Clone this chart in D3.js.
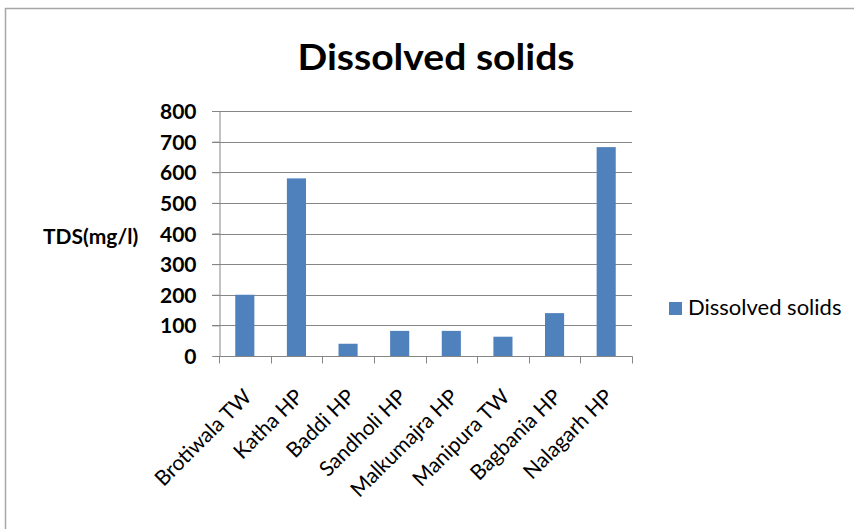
<!DOCTYPE html>
<html>
<head>
<meta charset="utf-8">
<script src="https://cdn.jsdelivr.net/npm/d3@7"></script>
<style>
  html, body { margin: 0; padding: 0; background: #fff; }
  svg { display: block; }
</style>
</head>
<body>
<svg id="chart" width="854" height="529"></svg>
<script>
const categories = ["Brotiwala TW", "Katha HP", "Baddi HP", "Sandholi HP", "Malkumajra HP", "Manipura TW", "Bagbania HP", "Nalagarh HP"];
const values = [200, 580, 40, 82, 82, 63, 140, 682];
const yTicks = [0, 100, 200, 300, 400, 500, 600, 700, 800];
const seriesName = "Dissolved solids";
const titleText = "Dissolved solids";
const yLabel = "TDS(mg/l)";

const svg = d3.select("#chart");
const W = 854, H = 529;
const plot = { left: 219, right: 632, top: 111, bottom: 356 };
const font = "Lato, 'Open Sans', sans-serif";
const barColor = "#4F81BD";
const gridColor = "#868686";

svg.append("rect").attr("width", W).attr("height", H).attr("fill", "#fff");
// outer chart border (only left/top visible)
svg.append("rect").attr("x", 5.5).attr("y", 8.5).attr("width", 1000).attr("height", 1000)
  .attr("fill", "none").attr("stroke", "#a6a6a6").attr("stroke-width", 1.5);

const x = d3.scaleBand().domain(categories).range([plot.left, plot.right]).paddingInner(0.63).paddingOuter(0.315);
const xb = d3.scaleBand().domain(categories).range([plot.left, plot.right]);
const y = d3.scaleLinear().domain([0, 800]).range([plot.bottom, plot.top]);

// gridlines
svg.append("g").selectAll("line").data(yTicks.filter(d => d > 0)).join("line")
  .attr("x1", plot.left - 7).attr("x2", plot.right)
  .attr("y1", d => Math.round(y(d)) + 0.5).attr("y2", d => Math.round(y(d)) + 0.5)
  .attr("stroke", gridColor).attr("stroke-width", 1);

// bars
svg.append("g").selectAll("rect").data(values).join("rect")
  .attr("x", (d, i) => x(categories[i]))
  .attr("width", x.bandwidth())
  .attr("y", d => y(d))
  .attr("height", d => y(0) - y(d))
  .attr("fill", barColor);

// y axis
const yAxis = d3.axisLeft(y).tickValues(yTicks).tickSize(7).tickFormat(d3.format("d"));
const gy = svg.append("g").attr("transform", `translate(${plot.left + 0.5},0)`).call(yAxis);
gy.select(".domain").attr("stroke", gridColor);
gy.selectAll(".tick line").attr("stroke", gridColor);
gy.selectAll(".tick text").attr("font-family", font).attr("font-weight", "bold")
  .attr("font-size", 21).attr("fill", "#000").attr("x", -23).attr("dy", "0.36em");

// x axis
const gx = svg.append("g").attr("transform", `translate(0,${plot.bottom + 0.5})`);
gx.append("line").attr("x1", plot.left).attr("x2", plot.right + 0.5).attr("stroke", gridColor);
gx.selectAll("line.t").data(categories.concat(["__end"])).join("line").attr("class", "t")
  .attr("x1", (d, i) => Math.round(plot.left + i * xb.bandwidth()) + 0.5)
  .attr("x2", (d, i) => Math.round(plot.left + i * xb.bandwidth()) + 0.5)
  .attr("y1", 0).attr("y2", 7).attr("stroke", gridColor);

svg.append("g").selectAll("text").data(categories).join("text")
  .attr("transform", d => `translate(${xb(d) + xb.bandwidth() / 2 + 8},${398}) rotate(-45)`)
  .attr("text-anchor", "end")
  .attr("font-family", font).attr("font-size", 21).attr("fill", "#000")
  .text(d => d);

// title
svg.append("text").attr("x", 436).attr("y", 70).attr("text-anchor", "middle")
  .attr("font-family", font).attr("font-weight", "bold").attr("font-size", 37).attr("fill", "#000")
  .attr("textLength", 277).attr("lengthAdjust", "spacingAndGlyphs")
  .text(titleText);

// y label
svg.append("text").attr("x", 43).attr("y", 244)
  .attr("font-family", font).attr("font-weight", "bold").attr("font-size", 21).attr("fill", "#000")
  .text(yLabel);

// legend
const lg = svg.append("g");
lg.append("rect").attr("x", 669).attr("y", 302).attr("width", 13).attr("height", 13).attr("fill", barColor);
lg.append("text").attr("x", 688).attr("y", 315)
  .attr("font-family", font).attr("font-size", 22).attr("fill", "#000").text(seriesName);
</script>
</body>
</html>
